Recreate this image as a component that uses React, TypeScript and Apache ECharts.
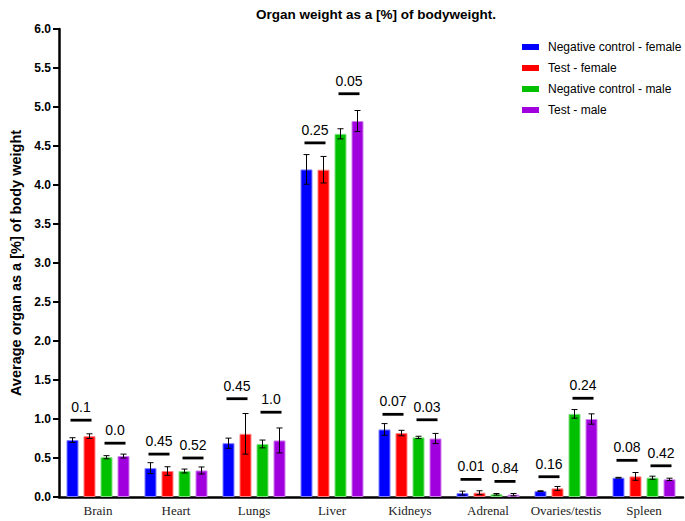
import React, { useEffect, useRef } from "react";
import * as echarts from "echarts";

const categories = ["Brain", "Heart", "Lungs", "Liver", "Kidneys", "Adrenal", "Ovaries/testis", "Spleen"];
const seriesNames = ["Negative control - female", "Test - female", "Negative control - male", "Test - male"];
const seriesColors = ["#0000FF", "#FF0000", "#00C000", "#A000DD"];
const seriesBorders = ["#8080FF", "#FF8080", "#80E080", "#D080EE"];

const negFemale = [0.73, 0.37, 0.69, 4.2, 0.866, 0.05, 0.075, 0.247];
const negFemaleErr = [0.03, 0.07, 0.065, 0.19, 0.075, 0.025, 0.005, 0.005];
const testFemale = [0.78, 0.333, 0.81, 4.196, 0.82, 0.055, 0.11, 0.264];
const testFemaleErr = [0.03, 0.055, 0.26, 0.17, 0.035, 0.025, 0.025, 0.05];
const negMale = [0.51, 0.333, 0.68, 4.656, 0.764, 0.035, 1.066, 0.247];
const negMaleErr = [0.02, 0.025, 0.05, 0.065, 0.015, 0.01, 0.055, 0.02];
const testMale = [0.525, 0.34, 0.725, 4.82, 0.75, 0.03, 1.0, 0.226];
const testMaleErr = [0.025, 0.045, 0.16, 0.135, 0.065, 0.015, 0.066, 0.015];

const femaleSigY = [0.985, 0.55, 1.26, 4.54, 1.06, 0.226, 0.26, 0.47];
const femaleSigLabels = ["0.1", "0.45", "0.45", "0.25", "0.07", "0.01", "0.16", "0.08"];
const maleSigY = [0.69, 0.5, 1.087, 5.17, 0.99, 0.2, 1.266, 0.4];
const maleSigLabels = ["0.0", "0.52", "1.0", "0.05", "0.03", "0.84", "0.24", "0.42"];

const yTicks = ["0.0", "0.5", "1.0", "1.5", "2.0", "2.5", "3.0", "3.5", "4.0", "4.5", "5.0", "5.5", "6.0"];

const SANS = "'Liberation Sans', Arial, Helvetica, sans-serif";
const SERIF = "'Liberation Serif', 'Times New Roman', serif";
const BAR_W = 12;
const BAR_STEP = 17;

export default function App() {
  const ref = useRef<HTMLDivElement>(null);
  useEffect(() => {
    document.body.style.margin = "0";
    if (!ref.current) return;
    const chart = echarts.init(ref.current, null, { renderer: "svg" });
    const values = [negFemale, testFemale, negMale, testMale];
    const errs = [negFemaleErr, testFemaleErr, negMaleErr, testMaleErr];

    const errData: number[][] = [];
    values.forEach((arr, s) => {
      arr.forEach((v, c) => {
        errData.push([c, s, v, errs[s][c]]);
      });
    });
    const sigData: number[][] = [];
    const sigLabels: string[] = [];
    femaleSigY.forEach((y, c) => {
      sigData.push([c, 0, y]);
      sigLabels.push(femaleSigLabels[c]);
    });
    maleSigY.forEach((y, c) => {
      sigData.push([c, 1, y]);
      sigLabels.push(maleSigLabels[c]);
    });

    const barSeries = seriesNames.map((name, s) => ({
      name,
      type: "bar",
      data: values[s],
      barWidth: BAR_W,
      barGap: "41.67%",
      itemStyle: { color: seriesColors[s], borderColor: seriesBorders[s], borderWidth: 1 },
      z: 2,
    }));

    const option: any = {
      animation: false,
      title: {
        text: "Organ weight as a [%] of bodyweight.",
        left: 371,
        textAlign: "center",
        top: 2,
        textStyle: { fontFamily: SANS, fontSize: 13.5, fontWeight: "bold", color: "#000" },
      },
      legend: {
        orient: "vertical",
        left: 517,
        top: 36,
        itemWidth: 17,
        itemHeight: 6,
        itemGap: 9,
        icon: "rect",
        data: seriesNames,
        itemStyle: { borderWidth: 0 },
        textStyle: { fontFamily: SANS, fontSize: 12, color: "#000", padding: [0, 0, 0, 4] },
      },
      grid: { left: 55, right: 2, top: 29, bottom: 24, containLabel: false },
      xAxis: {
        type: "category",
        data: categories,
        axisLine: { lineStyle: { color: "#000", width: 2.5 } },
        axisTick: { alignWithLabel: true, length: 6, lineStyle: { color: "#000", width: 2.5 } },
        axisLabel: { interval: 0, fontFamily: SERIF, fontSize: 13, color: "#222", margin: 7 },
      },
      yAxis: {
        type: "value",
        min: 0,
        max: 6,
        interval: 0.5,
        name: "Average organ as a [%] of body weight",
        nameLocation: "middle",
        nameGap: 36,
        nameTextStyle: { fontFamily: SANS, fontSize: 14.5, fontWeight: "bold", color: "#000" },
        axisLine: { show: true, lineStyle: { color: "#000", width: 2.5 } },
        axisTick: { show: true, length: 6, lineStyle: { color: "#000", width: 2 } },
        axisLabel: {
          fontFamily: SANS,
          fontSize: 12,
          fontWeight: "bold",
          color: "#000",
          margin: 8,
          formatter: (v: number) => yTicks[Math.round(v / 0.5)] ?? v.toFixed(1),
        },
        splitLine: { show: false },
      },
      series: [
        ...barSeries,
        {
          type: "custom",
          data: errData,
          encode: { x: 0, y: 2 },
          z: 5,
          renderItem: (params: any, api: any) => {
            const c = api.value(0);
            const s = api.value(1);
            const v = api.value(2);
            const e = api.value(3);
            const center = api.coord([c, v]);
            const x = center[0] + (s - 1.5) * BAR_STEP;
            const yTop = api.coord([c, v + e])[1];
            const yBot = api.coord([c, v - e])[1];
            const st = { stroke: "#000", lineWidth: 1 };
            return {
              type: "group",
              children: [
                { type: "line", shape: { x1: x, y1: yTop, x2: x, y2: yBot }, style: st },
                { type: "line", shape: { x1: x - 3, y1: yTop, x2: x + 3, y2: yTop }, style: st },
                { type: "line", shape: { x1: x - 3, y1: yBot, x2: x + 3, y2: yBot }, style: st },
              ],
            };
          },
        },
        {
          type: "custom",
          data: sigData,
          encode: { x: 0, y: 2 },
          z: 6,
          renderItem: (params: any, api: any) => {
            const c = api.value(0);
            const p = api.value(1);
            const y = api.value(2);
            const pt = api.coord([c, y]);
            const mid = pt[0] + (p === 0 ? -1 : 1) * BAR_STEP;
            return {
              type: "group",
              children: [
                {
                  type: "line",
                  shape: { x1: mid - 10.5, y1: pt[1], x2: mid + 10.5, y2: pt[1] },
                  style: { stroke: "#000", lineWidth: 2.8 },
                },
                {
                  type: "text",
                  x: mid,
                  y: pt[1] - 13,
                  style: {
                    text: sigLabels[params.dataIndex],
                    fontFamily: SANS,
                    fontSize: 14,
                    fill: "#000",
                    align: "center",
                    verticalAlign: "middle",
                  },
                },
              ],
            };
          },
        },
      ],
    };
    chart.setOption(option);
    return () => chart.dispose();
  }, []);
  return <div ref={ref} style={{ width: 685, height: 521 }} />;
}
